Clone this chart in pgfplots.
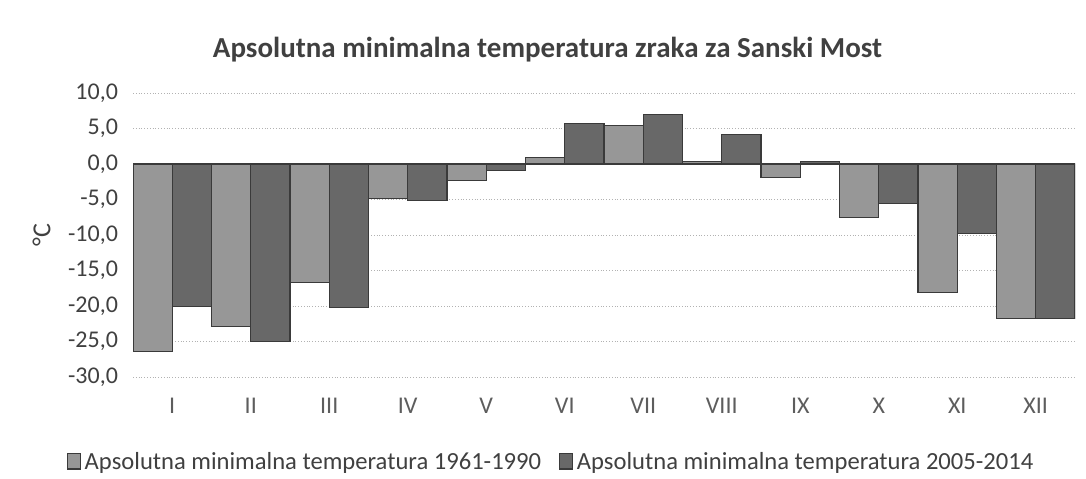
\documentclass[border=0pt]{standalone}
\usepackage{pgfplots}
\pgfplotsset{compat=1.18}
\usepackage{fontspec}
\setmainfont{Carlito}
\definecolor{lightbar}{HTML}{979797}
\definecolor{darkbar}{HTML}{686868}
\definecolor{edge}{HTML}{3A3A3A}
\definecolor{txt}{HTML}{404040}
\begin{document}
\begin{tikzpicture}
\useasboundingbox (0,0) rectangle (543pt,239pt);
\begin{axis}[
  at={(66.5pt,50.5pt)}, anchor=south west,
  scale only axis, width=471pt, height=142pt,
  ybar=0pt, bar width=19.625pt,
  xmin=-0.5, xmax=11.5, ymin=-30, ymax=10,
  xtick={0,...,11},
  xticklabels={I,II,III,IV,V,VI,VII,VIII,IX,X,XI,XII},
  ytick={-30,-25,...,10},
  yticklabel={\pgfmathprintnumber[fixed,fixed zerofill,precision=1,use comma]{\tick}},
  /pgf/number format/assume math mode=true,
  ymajorgrids, grid style={densely dotted, gray!60},
  axis line style={draw=none},
  major tick length=0pt,
  tick label style={font=\fontsize{12}{14}\selectfont, text=txt},
  xticklabel style={yshift=-7pt, text=txt!85},
  yticklabel style={xshift=-4pt},
  ylabel={°C}, ylabel style={font=\fontsize{13}{15}\selectfont, text=txt, at={(axis description cs:-0.097,0.5)}, anchor=center},
  title={\textbf{Apsolutna minimalna temperatura zraka za Sanski Most}},
  title style={font=\fontsize{14.5}{17}\selectfont, text=txt, at={(axis description cs:0.44,1)}, anchor=center, yshift=15.5pt},
  legend style={at={(axis description cs:0.445,-0.3)}, anchor=center, draw=none, legend columns=2, font=\fontsize{12.3}{14}\selectfont, text=txt, /tikz/every even column/.append style={column sep=7pt}},
  legend image code/.code={\draw[#1, draw=edge] (0cm,-0.12cm) rectangle (0.22cm,0.15cm);},
]
\addplot[fill=lightbar, draw=edge, line width=0.6pt] coordinates {
(0,-26.4) (1,-22.9) (2,-16.7) (3,-4.85) (4,-2.3) (5,0.9) (6,5.4) (7,0.3) (8,-1.9) (9,-7.5) (10,-18.1) (11,-21.8)};
\addplot[fill=darkbar, draw=edge, line width=0.6pt] coordinates {
(0,-20.1) (1,-25.0) (2,-20.2) (3,-5.1) (4,-0.9) (5,5.7) (6,7.0) (7,4.1) (8,0.4) (9,-5.6) (10,-9.8) (11,-21.8)};
\legend{Apsolutna minimalna temperatura 1961-1990, Apsolutna minimalna temperatura 2005-2014}
\end{axis}
\end{tikzpicture}
\end{document}
